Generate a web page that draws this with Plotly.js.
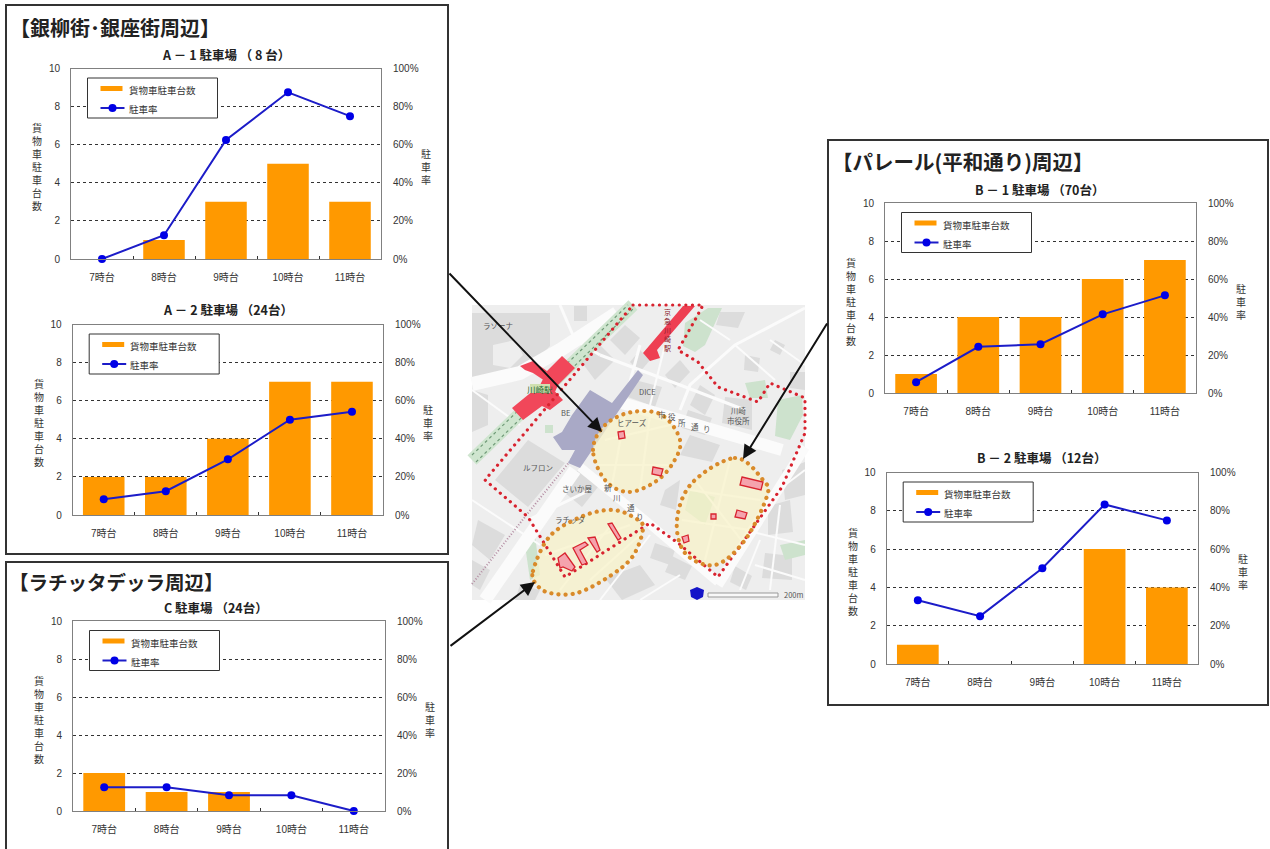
<!DOCTYPE html>
<html lang="ja">
<head>
<meta charset="utf-8">
<title>貨物車駐車台数と駐車率</title>
<script src="https://cdn.plot.ly/plotly-3.0.1.min.js"></script>
<style>
html,body{margin:0;padding:0;background:#fff;overflow:hidden}
#chart{width:1270px;height:849px}
#chart .shapelayer path[style*="0.1px"]{stroke-linecap:round}
</style>
</head>
<body>
<div id="chart"></div>
<script>
// Hourly categories and tick labels shared by every parking-lot chart
const hours = ['7時台', '8時台', '9時台', '10時台', '11時台'];
const countTicks = [0, 2, 4, 6, 8, 10];
const rateTicks = [0, 20, 40, 60, 80, 100];
const rateTickLabels = ['0%', '20%', '40%', '60%', '80%', '100%'];
const countName = '貨物車駐車台数';
const rateName = '駐車率';

// Trucks parked (台) and occupancy (%) per lot
const a1Trucks = [0, 1, 3, 5, 3];
const a1Rate = [0, 12.5, 62.5, 87.5, 75];
const a2Trucks = [2, 2, 4, 7, 7];
const a2Rate = [8.3, 12.5, 29.2, 50, 54.2];
const b1Trucks = [1, 4, 4, 6, 7];
const b1Rate = [5.7, 24.3, 25.7, 41.4, 51.4];
const b2Trucks = [1, 0, 0, 6, 4];
const b2Rate = [33.3, 25, 50, 83.3, 75];
const cTrucks = [2, 1, 1, 0, 0];
const cRate = [12.5, 12.5, 8.3, 8.3, 0];

const W = 1270, H = 849;
const sans = '"Liberation Sans","Noto Sans CJK JP",sans-serif';
const jp = '"Noto Sans CJK JP",sans-serif';

const px = x => x / W;
const py = y => 1 - y / H;

// Chart placement on the page, in pixels: left, top, right, bottom
const charts = [
  {title: 'A － 1 駐車場 （ 8 台）', trucks: a1Trucks, rate: a1Rate, box: [71, 68.5, 381, 259], titleY: 54, titleX: 226},
  {title: 'A － 2 駐車場 （24台）', trucks: a2Trucks, rate: a2Rate, box: [72.7, 324.5, 383, 515], titleY: 310, titleX: 228},
  {title: 'B － 1 駐車場 （70台）', trucks: b1Trucks, rate: b1Rate, box: [885, 203, 1196, 393], titleY: 189, titleX: 1040},
  {title: 'B － 2 駐車場 （12台）', trucks: b2Trucks, rate: b2Rate, box: [886.7, 472.5, 1198, 664], titleY: 458, titleX: 1042},
  {title: 'C 駐車場 （24台）', trucks: cTrucks, rate: cRate, box: [73, 621, 385, 811], titleY: 607, titleX: 216}
];

const traces = [];
const shapes = [];
const annotations = [];
const layout = {
  width: W, height: H,
  margin: {l: 0, r: 0, t: 0, b: 0, pad: 0},
  paper_bgcolor: '#fff', plot_bgcolor: 'rgba(0,0,0,0)',
  bargap: 0.33, showlegend: false, hovermode: false,
  font: {family: sans, size: 10, color: '#333'}
};

const text = (x, y, t, size, opts = {}) => annotations.push(Object.assign({
  xref: 'paper', yref: 'paper', x: px(x), y: py(y), text: t, showarrow: false,
  xanchor: 'center', yanchor: 'middle',
  font: {family: jp, size, color: '#333'}
}, opts));

const path = pts => 'M' + pts.map(p => px(p[0]) + ',' + py(p[1])).join('L');
const closed = pts => path(pts) + 'Z';

// Closed Catmull-Rom outline, used for the hand-traced district rings
function smooth(pts) {
  const n = pts.length;
  let d = 'M' + px(pts[0][0]) + ',' + py(pts[0][1]);
  for (let i = 0; i < n; i++) {
    const p0 = pts[(i - 1 + n) % n], p1 = pts[i], p2 = pts[(i + 1) % n], p3 = pts[(i + 2) % n];
    const c1 = [p1[0] + (p2[0] - p0[0]) / 6, p1[1] + (p2[1] - p0[1]) / 6];
    const c2 = [p2[0] - (p3[0] - p1[0]) / 6, p2[1] - (p3[1] - p1[1]) / 6];
    d += 'C' + px(c1[0]) + ',' + py(c1[1]) + ' ' + px(c2[0]) + ',' + py(c2[1]) + ' ' + px(p2[0]) + ',' + py(p2[1]);
  }
  return d + 'Z';
}

const fillShape = (d, fill, layer = 'below', line = {width: 0}) =>
  shapes.push({type: 'path', xref: 'paper', yref: 'paper', path: d, fillcolor: fill, line, layer});
const lineShape = (pts, color, width, dash = 'solid', layer = 'below') =>
  shapes.push({type: 'path', xref: 'paper', yref: 'paper', path: path(pts), line: {color, width, dash}, layer});

// Panel frames around each district
const frames = [[6, 5, 448, 554], [6, 562, 448, 860], [828, 140, 1268, 705]];
frames.forEach(f => shapes.push({
  type: 'rect', xref: 'paper', yref: 'paper', layer: 'below',
  x0: px(f[0]), y0: py(f[1]), x1: px(f[2]), y1: py(f[3]),
  line: {color: '#333', width: 2}, fillcolor: 'rgba(0,0,0,0)'
}));

// District map: base tiles, blocks, parks, roads
const mapRect = [472, 305, 805, 600];
shapes.push({type: 'rect', xref: 'paper', yref: 'paper', layer: 'below',
  x0: px(mapRect[0]), y0: py(mapRect[1]), x1: px(mapRect[2]), y1: py(mapRect[3]),
  fillcolor: '#eeeeee', line: {width: 0}});

const blocks = [
  [[472, 313], [550, 313], [550, 346], [527, 370], [517, 380], [472, 380]],
  [[495, 480], [528, 440], [565, 463], [528, 507]],
  [[558, 487], [578, 470], [598, 487], [582, 507]],
  [[635, 380], [662, 387], [655, 407], [628, 397]],
  [[725, 397], [752, 400], [752, 430], [722, 423]],
  [[580, 360], [600, 345], [615, 360], [595, 380]],
  [[574, 306], [587, 306], [587, 321], [574, 321]],
  [[610, 340], [625, 325], [640, 338], [625, 355]],
  [[640, 350], [650, 360], [640, 372], [630, 362]],
  [[665, 375], [680, 360], [690, 372], [675, 388]],
  [[700, 385], [715, 395], [705, 415], [690, 405]],
  [[688, 410], [712, 418], [705, 435], [682, 428]],
  [[745, 355], [760, 358], [758, 372], [744, 370]],
  [[775, 340], [785, 345], [780, 355], [770, 350]],
  [[790, 372], [805, 372], [805, 390], [790, 388]],
  [[720, 312], [745, 312], [738, 328], [716, 325]],
  [[472, 390], [488, 395], [488, 425], [472, 432]],
  [[478, 520], [505, 535], [490, 560], [472, 545]],
  [[472, 560], [490, 570], [480, 590], [472, 585]],
  [[520, 585], [540, 590], [535, 600], [515, 600]],
  [[605, 578], [640, 565], [655, 585], [622, 600]],
  [[655, 543], [675, 550], [670, 565], [650, 558]],
  [[672, 556], [692, 566], [685, 580], [665, 572]],
  [[735, 566], [752, 576], [746, 590], [730, 582]],
  [[765, 553], [792, 556], [792, 580], [762, 578]],
  [[768, 506], [790, 500], [793, 532], [768, 535]],
  [[782, 470], [805, 462], [805, 495], [785, 500]],
  [[690, 435], [720, 445], [712, 462], [680, 455]],
  [[665, 490], [680, 480], [676, 510], [660, 505]]
];
blocks.forEach(b => fillShape(closed(b), '#dcdcdc'));
fillShape(closed([[493, 345], [515, 340], [523, 355], [510, 368], [493, 365]]), '#eeeeee');

const parks = [
  [[683, 346], [685, 323], [708, 308], [722, 308], [705, 345], [695, 352]],
  [[775, 436], [778, 400], [802, 395], [803, 415], [790, 440]],
  [[745, 383], [765, 380], [768, 398], [750, 398]],
  [[525, 545], [535, 535], [540, 575], [530, 580]],
  [[545, 425], [553, 425], [553, 433], [545, 433]],
  [[690, 490], [715, 497], [705, 525], [685, 510]],
  [[780, 545], [805, 540], [805, 555], [785, 560]]
];
parks.forEach(b => fillShape(closed(b), '#cde2cd'));

const roads = [
  [[[472, 384], [520, 373], [560, 350], [617, 313]], 14],
  [[[485, 600], [575, 470]], 13],
  [[[622, 403], [782, 450]], 12],
  [[[580, 467], [645, 520], [718, 582]], 9],
  [[[805, 447], [718, 585]], 10],
  [[[560, 305], [575, 340], [600, 355]], 3],
  [[[600, 355], [680, 385], [745, 410]], 3],
  [[[805, 308], [735, 345], [690, 385], [680, 410]], 3],
  [[[640, 345], [625, 400]], 3],
  [[[665, 345], [650, 405]], 2],
  [[[770, 340], [805, 365]], 2],
  [[[735, 345], [775, 380]], 2],
  [[[700, 320], [730, 340]], 2],
  [[[472, 500], [540, 545]], 2],
  [[[472, 390], [520, 425]], 2],
  [[[528, 520], [590, 490]], 3],
  [[[650, 535], [600, 600]], 2],
  [[[680, 575], [640, 600]], 2],
  [[[745, 530], [805, 545]], 2],
  [[[765, 500], [805, 470]], 2],
  [[[760, 540], [740, 590]], 2],
  [[[780, 505], [770, 590]], 2],
  [[[755, 565], [805, 580]], 2],
  // streets inside the three districts
  [[[605, 440], [670, 425]], 2], [[[598, 465], [668, 465]], 2], [[[625, 415], [612, 485]], 2],
  [[[650, 415], [640, 490]], 2], [[[690, 490], [760, 500]], 2], [[[682, 520], [750, 530]], 2],
  [[[730, 460], [705, 560]], 2], [[[695, 480], [745, 545]], 2],
  [[[545, 555], [630, 525]], 2], [[[560, 590], [615, 520]], 2], [[[590, 580], [640, 535]], 2]
];
roads.forEach(r => lineShape(r[0], '#fbfbfb', r[1]));

// Rail corridors and station concourse
lineShape([[472, 460], [633, 305]], '#cfe5cf', 13);
lineShape([[472, 455], [628, 305]], '#6f9a77', 1.2, '3px,3px');
lineShape([[476, 462], [634, 308]], '#6f9a77', 1.2, '3px,3px');
lineShape([[472, 584], [528, 513], [575, 455]], '#b58fa4', 2, '1px,2px');
fillShape(closed([[553, 437], [562, 432], [572, 415], [590, 390], [612, 403], [638, 370], [643, 375], [580, 468], [568, 463], [575, 450], [562, 450]]), '#a9a9c6');

// Stations
fillShape(closed([[512, 408], [545, 381], [563, 400], [550, 410], [542, 406], [523, 420]]), '#f1475a');
fillShape(closed([[540, 385], [547, 371], [562, 356], [575, 368], [558, 385], [555, 392]]), '#f1475a');
fillShape(closed([[520, 366], [533, 361], [547, 371], [545, 381], [533, 373], [525, 370]]), '#f1475a');
fillShape(closed([[530, 384], [550, 384], [550, 393], [530, 393]]), '#cfe0b0');
fillShape(closed([[643, 353], [683, 306], [695, 306], [657, 350], [660, 358], [650, 361]]), '#ee3f52');

// Survey-area rings
const rings = [
  [[593, 450], [605, 425], [632, 412], [662, 415], [680, 440], [673, 463], [655, 482], [628, 492], [605, 480]],
  [[735, 458], [763, 480], [767, 496], [745, 540], [715, 565], [685, 553], [677, 520], [692, 483]],
  [[533, 571], [550, 536], [583, 516], [613, 510], [635, 518], [643, 528], [633, 556], [610, 576], [577, 593], [550, 593], [537, 585]]
];
rings.forEach(r => fillShape(smooth(r), 'rgba(248,243,200,0.72)', 'below', {width: 0}));

// Red dotted study-area boundary
lineShape([[633, 305], [703, 305], [695, 320], [678, 350], [698, 362], [718, 387], [758, 402], [770, 383], [805, 398], [805, 433], [782, 487], [718, 577], [678, 543], [650, 523], [565, 577], [528, 517], [485, 480], [633, 305]], '#d8232f', 3.2, '0.1px,6.5px');
rings.forEach(r => shapes.push({type: 'path', xref: 'paper', yref: 'paper', layer: 'below', path: smooth(r), line: {color: '#d98a2a', width: 4.2, dash: '0.1px,7px'}}));

// Surveyed parking lots
const lots = [
  [[618, 432], [624, 431], [625, 438], [619, 439]],
  [[653, 467], [663, 469], [661, 476], [652, 474]],
  [[742, 477], [763, 482], [761, 490], [740, 485]],
  [[737, 510], [747, 513], [745, 519], [735, 517]],
  [[711, 514], [716, 514], [716, 519], [711, 519]],
  [[682, 537], [688, 535], [689, 541], [684, 543]],
  [[558, 558], [565, 553], [575, 567], [572, 571], [563, 567], [560, 568]],
  [[573, 548], [585, 542], [588, 545], [580, 550], [587, 563], [582, 565]],
  [[588, 538], [595, 537], [600, 550], [597, 552]],
  [[608, 524], [612, 523], [621, 538], [618, 540]]
];
lots.forEach(b => fillShape(closed(b), '#f5a3ad', 'below', {color: '#d8232f', width: 1.3}));

// Scale bar and route shield
fillShape(closed([[690, 590], [697, 587], [704, 590], [703, 597], [697, 600], [691, 597]]), '#1414c8');
shapes.push({type: 'rect', xref: 'paper', yref: 'paper', layer: 'below', x0: px(708), y0: py(593), x1: px(778), y1: py(597), fillcolor: '#f8f8f8', line: {color: '#999', width: 1}});

// Map labels
const mapLabels = [
  [498, 325, 'ラゾーナ'], [565, 412, 'BE'], [647, 392, 'DICE'], [738, 416, '川崎<br>市役所'],
  [662, 415, '市'], [672, 417, '役'], [682, 422, '所'], [695, 426, '通'], [707, 428, 'り'],
  [632, 422, 'ヒアーズ'], [538, 467, 'ルフロン'], [577, 488, 'さいか屋'], [570, 519, 'ラチッタ'],
  [608, 487, '新'], [617, 497, '川'], [631, 507, '通'], [640, 516, 'り'], [793, 594, '200m']
];
mapLabels.forEach(l => text(l[0], l[1], l[2], 7.5, {font: {family: jp, size: 7.5, color: '#555'}}));
text(540, 389, '川崎駅', 8.5, {font: {family: jp, size: 8.5, color: '#1e6a2e'}});
text(667, 330, '京<br>急<br>川<br>崎<br>駅', 7, {font: {family: jp, size: 7, color: '#8a1a28'}});

// Pointers from the panels into the map
const pointers = [
  [[448, 272], [602, 432]],
  [[828, 322], [743, 459]],
  [[449, 647], [535, 582]]
];
pointers.forEach(p => annotations.push({
  xref: 'paper', yref: 'paper', x: px(p[1][0]), y: py(p[1][1]),
  axref: 'pixel', ayref: 'pixel', ax: p[0][0] - p[1][0], ay: p[0][1] - p[1][1],
  text: '', showarrow: true, arrowhead: 2, arrowsize: 1.4, arrowwidth: 2, arrowcolor: '#111',
  standoff: 0, startstandoff: 0
}));

// Panel headings
text(8, 27.5, '【銀柳街･銀座街周辺】', 20, {xanchor: 'left', font: {family: jp, size: 20, color: '#222', weight: 700}});
text(7, 581.5, '【ラチッタデッラ周辺】', 19.5, {xanchor: 'left', font: {family: jp, size: 19.5, color: '#222', weight: 700}});
text(830, 160.5, '【パレール(平和通り)周辺】', 20.5, {xanchor: 'left', font: {family: jp, size: 20.5, color: '#222', weight: 700}});

// Dual-axis combo chart for each parking lot
charts.forEach((c, i) => {
  const xId = i === 0 ? 'x' : 'x' + (i + 1);
  const y1 = 2 * i + 1, y2 = 2 * i + 2;
  const y1Id = y1 === 1 ? 'y' : 'y' + y1;
  const y2Id = 'y' + y2;
  const [l, t, r, b] = c.box;

  traces.push({type: 'bar', name: countName, x: hours, y: c.trucks, xaxis: xId, yaxis: y1Id,
    marker: {color: '#ff9900', line: {width: 0}}});
  traces.push({type: 'scatter', mode: 'lines+markers', name: rateName, x: hours, y: c.rate, xaxis: xId, yaxis: y2Id,
    cliponaxis: false,
    line: {color: '#1c1cc8', width: 2}, marker: {color: '#0000e6', size: 8}});

  layout[i === 0 ? 'xaxis' : 'xaxis' + (i + 1)] = {
    domain: [px(l), px(r)], anchor: y1Id, type: 'category', range: [-0.5, 4.5],
    categoryorder: 'array', categoryarray: hours,
    showline: true, mirror: true, linecolor: '#808080', linewidth: 1, showgrid: false, zeroline: false,
    ticks: 'inside', tickson: 'boundaries', ticklen: 3, tickcolor: '#333', tickwidth: 1,
    ticklabelstandoff: 9, tickfont: {family: sans, size: 10, color: '#333'}
  };
  layout[y1 === 1 ? 'yaxis' : 'yaxis' + y1] = {
    domain: [py(b), py(t)], anchor: xId, range: [0, 10], tickmode: 'array', tickvals: countTicks,
    showline: true, mirror: true, linecolor: '#808080', linewidth: 1,
    showgrid: true, gridcolor: '#333', griddash: 'dot', gridwidth: 1, zeroline: false,
    ticks: '', ticklabelstandoff: 8, tickfont: {family: sans, size: 10, color: '#333'}
  };
  layout['yaxis' + y2] = {
    domain: [py(b), py(t)], anchor: xId, overlaying: y1Id, side: 'right', range: [0, 100],
    tickmode: 'array', tickvals: rateTicks, ticktext: rateTickLabels,
    showline: false, showgrid: false, zeroline: false,
    ticks: '', ticklabelstandoff: 11, tickfont: {family: sans, size: 10, color: '#333'}
  };

  text(c.titleX, c.titleY, c.title, 12.5, {font: {family: jp, size: 12.5, color: '#222', weight: 700}});
  text(l - 34, (t + b) / 2 + 3, countName.split('').join('<br>'), 10, {font: {family: jp, size: 10, color: '#333'}});
  text(r + 45, (t + b) / 2 + 3, rateName.split('').join('<br>'), 10, {font: {family: jp, size: 10, color: '#333'}});

  // In-plot key: swatch bar, line with marker, and their labels
  const kx = l + 16.5, ky = t + 9.5;
  shapes.push({type: 'rect', xref: 'paper', yref: 'paper', layer: 'above',
    x0: px(kx), y0: py(ky), x1: px(kx + 130), y1: py(ky + 40), fillcolor: '#fff', line: {color: '#333', width: 1}});
  shapes.push({type: 'rect', xref: 'paper', yref: 'paper', layer: 'above',
    x0: px(kx + 13), y0: py(ky + 8), x1: px(kx + 35), y1: py(ky + 13), fillcolor: '#ff9900', line: {width: 0}});
  shapes.push({type: 'line', xref: 'paper', yref: 'paper', layer: 'above',
    x0: px(kx + 13), y0: py(ky + 30), x1: px(kx + 37), y1: py(ky + 30), line: {color: '#1c1cc8', width: 2}});
  shapes.push({type: 'circle', xref: 'paper', yref: 'paper', layer: 'above',
    x0: px(kx + 21), y0: py(ky + 26), x1: px(kx + 29), y1: py(ky + 34), fillcolor: '#0000e6', line: {width: 0}});
  text(kx + 39, ky + 12, countName, 9.5, {xanchor: 'left', font: {family: jp, size: 9.5, color: '#333'}});
  text(kx + 39, ky + 31, rateName, 9.5, {xanchor: 'left', font: {family: jp, size: 9.5, color: '#333'}});
});

layout.shapes = shapes;
layout.annotations = annotations;
Plotly.newPlot('chart', traces, layout, {displayModeBar: false, staticPlot: true});
</script>
</body>
</html>
